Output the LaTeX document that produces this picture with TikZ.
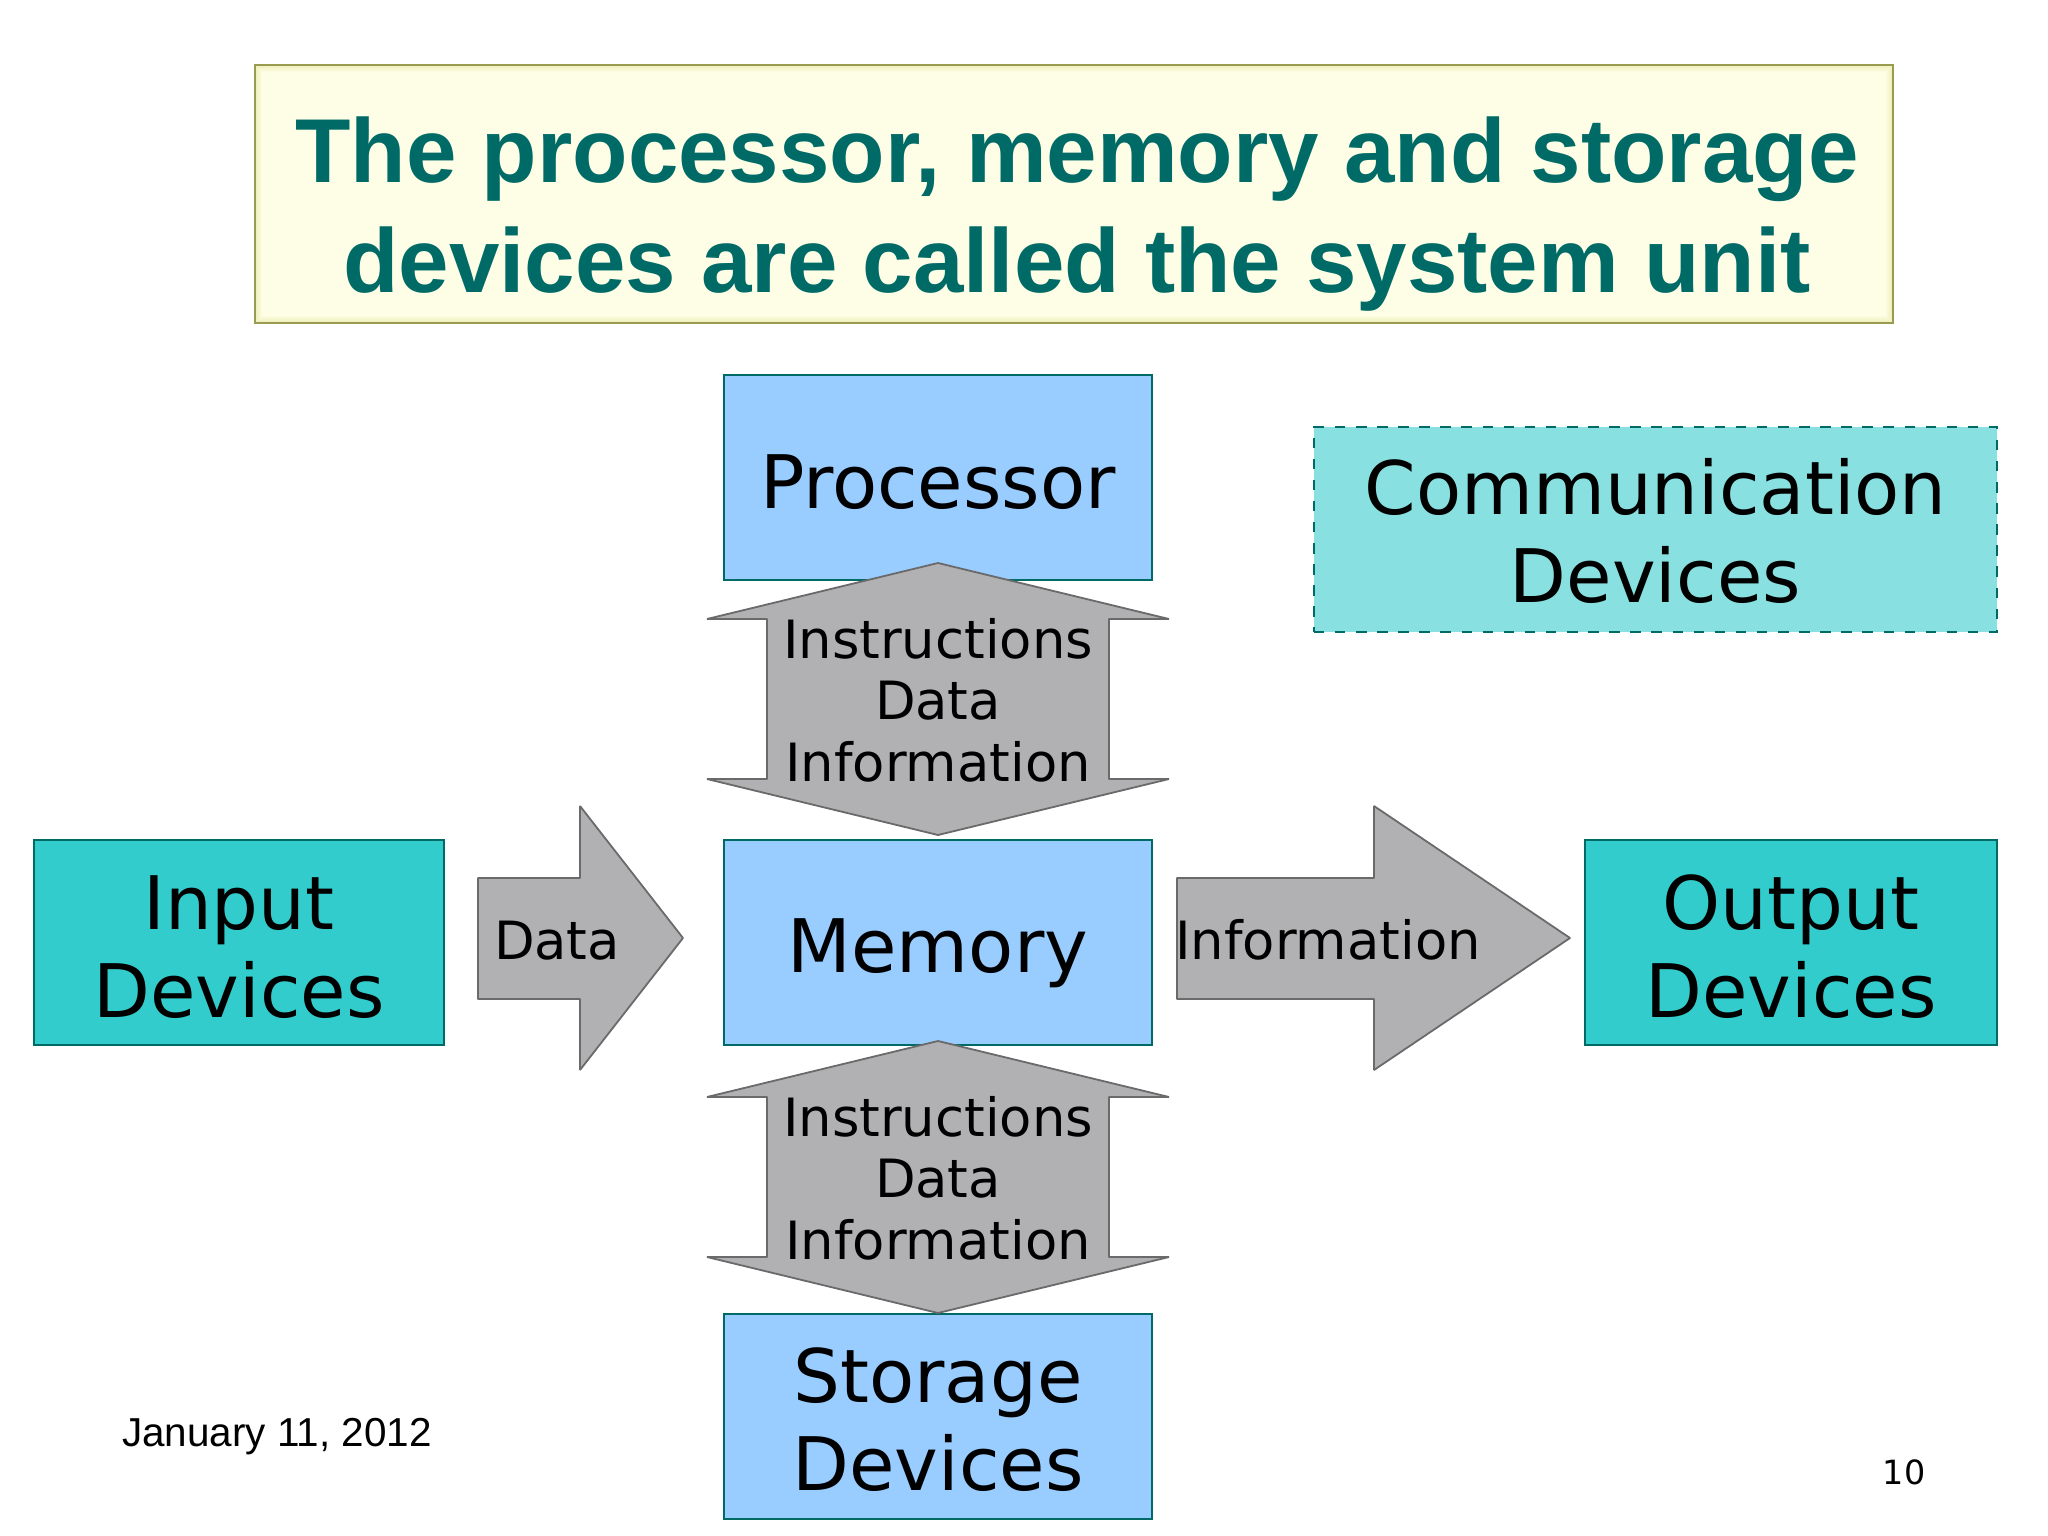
\documentclass[tikz,border=0pt]{standalone}
\usepackage{fontspec}
\setmainfont{DejaVu Sans}
\newfontfamily\titlefont{Liberation Sans}
\usetikzlibrary{calc}

\definecolor{titlefill}{HTML}{FEFEE6}
\definecolor{titlebevel}{HTML}{EEEEB8}
\definecolor{titleedge}{HTML}{9A9A50}
\definecolor{titletext}{HTML}{006B66}
\definecolor{boxblue}{HTML}{99CCFF}
\definecolor{boxteal}{HTML}{33CCCC}
\definecolor{boxcomm}{HTML}{88E0E0}
\definecolor{boxedge}{HTML}{006B66}
\definecolor{arrowgrey}{HTML}{B1B0B2}
\definecolor{arrowedge}{HTML}{6A6A6A}

\newcommand{\nudge}[1]{\rule{0pt}{#1pt}}

\tikzset{
  unitbox/.style={draw=boxedge,line width=0.18mm,fill=boxblue,align=center,inner sep=0pt,
    font=\fontsize{21}{25}\selectfont},
  iobox/.style={unitbox,fill=boxteal},
  commbox/.style={unitbox,fill=boxcomm,dashed},
  flow/.style={draw=arrowedge,line width=0.18mm,fill=arrowgrey,line join=bevel},
  flowtext/.style={align=center,inner sep=0pt,font=\fontsize{15}{17.5}\selectfont},
}

\begin{document}
\begin{tikzpicture}[x=0.01cm,y=-0.01cm]
\useasboundingbox (0,0) rectangle (2048,1536);

%line info
\def\cx{938}
\def\wing{231}
\def\shaft{171}
\def\headh{56}

%title
\coordinate (TL) at (255,65);
\coordinate (BR) at (1893,323);
\foreach \i in {0,...,6}{
    \pgfmathtruncatemacro{\mix}{\i*100/7}
    \fill[titlefill!\mix!titlebevel] ($(TL)+(\i,\i)$) rectangle ($(BR)-(\i,\i)$);
}
\fill[titlefill] ($(TL)+(7,7)$) rectangle ($(BR)-(7,7)$);
\draw[titleedge,line width=0.2mm] (TL) rectangle (BR);
\node[inner sep=0pt,align=center,text=titletext,font=\titlefont\bfseries\fontsize{25.8}{31.2}\selectfont] (title) at (1077,214)
    {The processor, memory and storage\\devices are called the system unit};

%boxes
\node[unitbox,minimum width=4.27cm,minimum height=2.05cm] (proc) at (\cx,477.5) {\nudge{17.7}Processor};
\node[unitbox,minimum width=4.27cm,minimum height=2.05cm] (mem)  at (\cx,942.5) {\nudge{21.5}Memory};
\node[unitbox,minimum width=4.27cm,minimum height=2.05cm] (stor) at (\cx,1416.5) {\nudge{17.5}Storage\\Devices};
\node[iobox,minimum width=4.10cm,minimum height=2.05cm] (input)  at (239,942.5) {\nudge{18}Input\\Devices};
\node[iobox,minimum width=4.12cm,minimum height=2.05cm] (output) at (1791,942.5) {\nudge{18}Output\\Devices};
\node[commbox,minimum width=6.83cm,minimum height=2.05cm] (comm) at (1655.5,529.5) {\nudge{17}Communication\\Devices};

%double arrows
\foreach \n/\y in {up/563,low/1041}{
    \coordinate (\n top) at (\cx,\y);
    \draw[flow] (\n top) -- ++(\wing,\headh) -- ++(-\wing+\shaft,0) -- ++(0,160) -- ++(\wing-\shaft,0)
        -- (\cx,\y+272) -- (\cx-\wing,\y+216) -- ++(\wing-\shaft,0) -- ++(0,-160) -- ++(-\wing+\shaft,0) -- cycle;
    \node[flowtext] (\n text) at (\cx,\y+137) {Instructions\\Data\\Information};
}

%right arrows
\draw[flow] (478,878) -- (580,878) -- (580,806) -- (683,938) -- (580,1070) -- (580,999) -- (478,999) -- cycle;
\node[flowtext] (datatext) at (557,941) {Data};
\draw[flow] (1177,878) -- (1374,878) -- (1374,806) -- (1570,938) -- (1374,1070) -- (1374,999) -- (1177,999) -- cycle;
\node[flowtext] (infotext) at (1328,940) {Information};

%footer
\node[inner sep=0pt,font=\titlefont\fontsize{11.5}{14}\selectfont] (date) at (277,1437) {January 11, 2012};
\node[inner sep=0pt,font=\fontsize{9.5}{12}\selectfont] (page) at (1904,1472) {10};

\end{tikzpicture}
\end{document}
